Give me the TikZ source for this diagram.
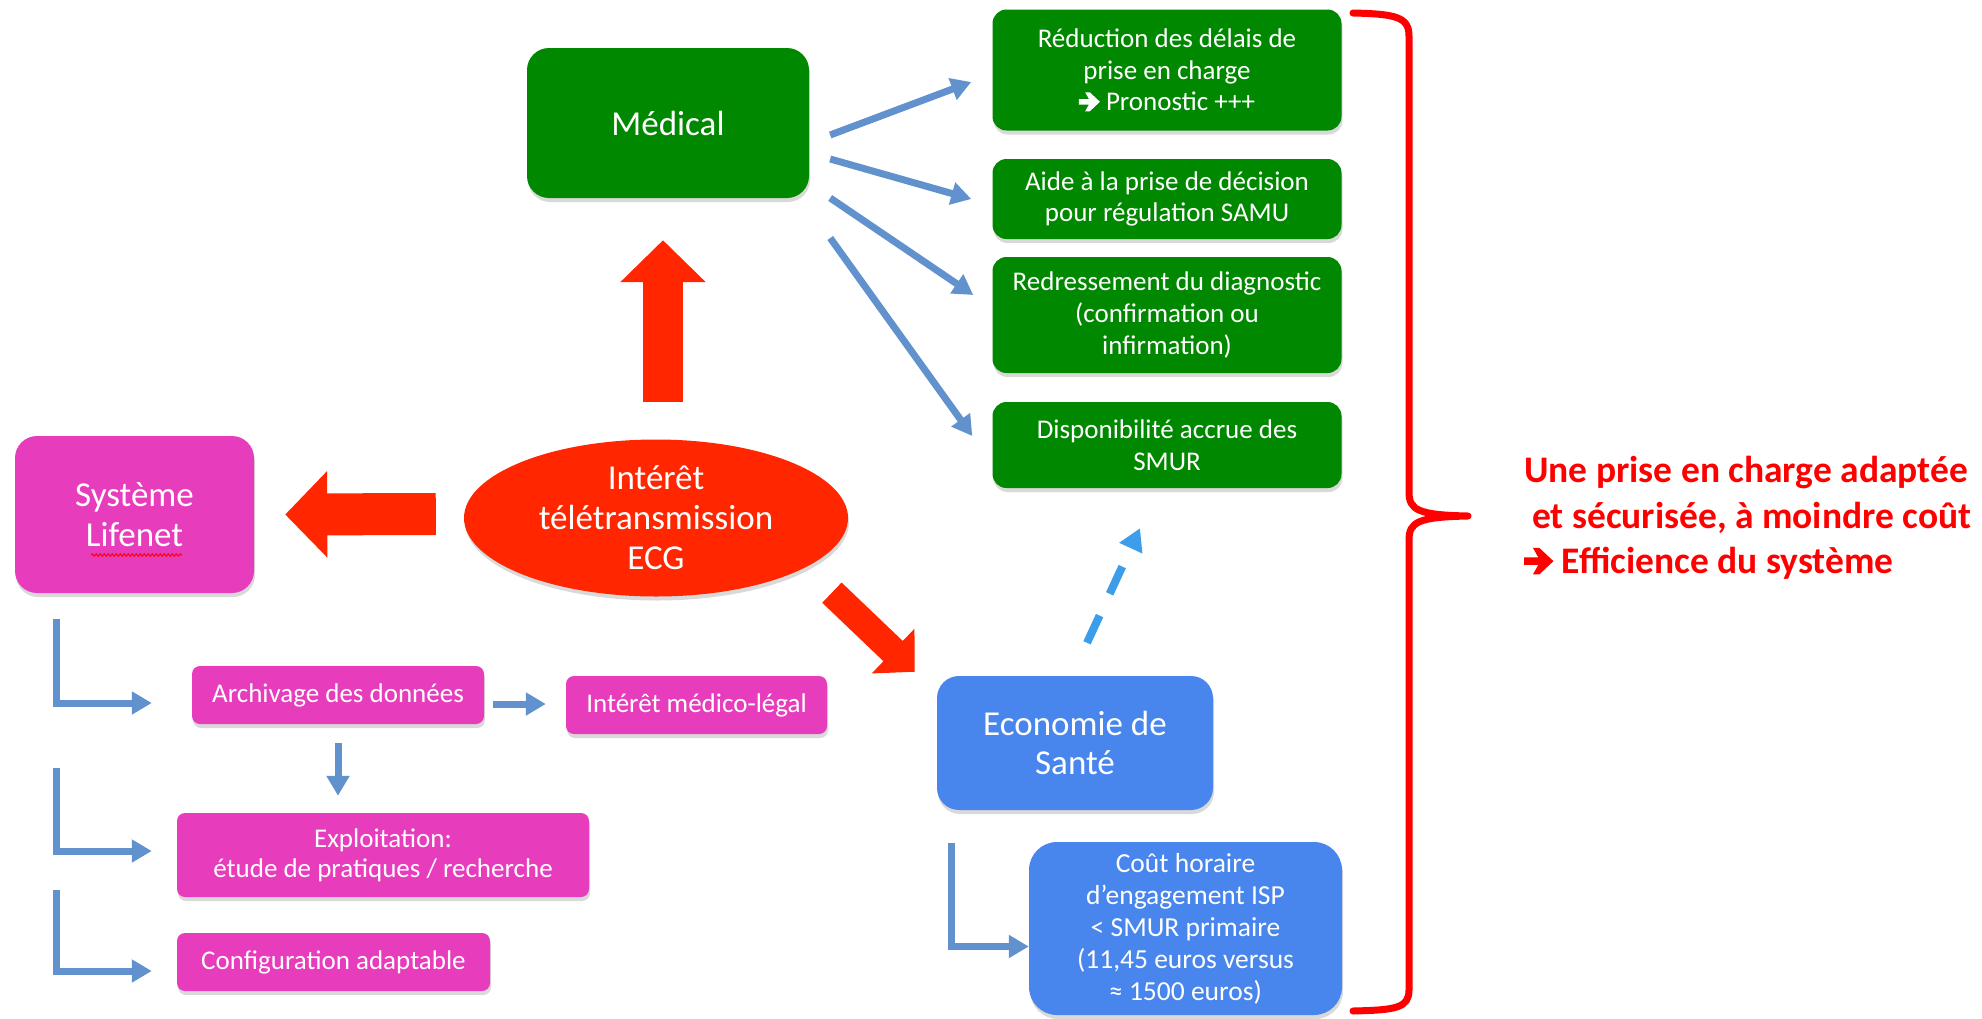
\documentclass[tikz,border=0pt]{standalone}
\usepackage{fontspec}
\setmainfont{Carlito}
\usetikzlibrary{arrows.meta,shapes.geometric,shadows,decorations.pathmorphing}
\definecolor{cgreen}{RGB}{0,137,0}
\definecolor{cpink}{RGB}{231,61,189}
\definecolor{cblue}{RGB}{72,133,237}
\definecolor{cred}{RGB}{255,38,0}
\definecolor{cline}{RGB}{98,146,205}
\definecolor{cdash}{RGB}{60,158,235}
\definecolor{pured}{RGB}{255,0,0}
\newcommand\heavyarrow[1]{\tikz[baseline=-0.33em,x=0.78em,y=0.78em,sharp corners]\fill[#1,sharp corners] (0,0.13) -- (0.48,0.13) -- (0.3,0.45) -- (0.52,0.45) -- (1,0) -- (0.52,-0.45) -- (0.3,-0.45) -- (0.48,-0.13) -- (0,-0.13) -- cycle;}
\begin{document}
\begin{tikzpicture}[x=1pt,y=-1pt,
  shad/.style={drop shadow={shadow xshift=1pt,shadow yshift=-4pt,opacity=0.25,fill=black!60}},
  base/.style={rectangle, text=white, align=center, inner sep=0pt, shad},
  smallfont/.style={font=\fontsize{27}{31.6}\selectfont},
  bigfont/.style={font=\fontsize{35}{40}\selectfont},
  gbox/.style={base, smallfont, fill=cgreen, rounded corners=14pt, minimum width=349pt},
  pbox/.style={base, smallfont, fill=cpink, rounded corners=8pt},
  redarrow/.style={draw=cred, line width=#1},
  bline/.style={draw=cline, line width=7pt, -{Triangle[length=20pt,width=22pt]}},
]
\useasboundingbox (0,0) rectangle (1982,1018);

% nodes
\node[base, bigfont, fill=cgreen, rounded corners=22pt, minimum width=282pt, minimum height=150pt] (med) at (668,123) {Médical};
\node[gbox, minimum height=121pt] (g1) at (1167,70) {Réduction des délais de\\prise en charge\\\heavyarrow{white} Pronostic +++};
\node[gbox, minimum height=80pt] (g2) at (1167,199) {Aide à la prise de décision\\pour régulation SAMU};
\node[gbox, minimum height=116pt] (g3) at (1167,315) {Redressement du diagnostic\\(confirmation ou\\infirmation)};
\node[gbox, minimum height=86pt] (g4) at (1167,445) {Disponibilité accrue des\\SMUR};
\node[base, bigfont, fill=cpink, rounded corners=22pt, minimum width=239pt, minimum height=157pt] (life) at (134.5,514.5) {Système\\Lifenet};
\node[ellipse, fill=cred, text=white, align=center, inner sep=0pt, bigfont, minimum width=384pt, minimum height=157pt, shad] (ell) at (656,518) {Intérêt\\télétransmission\\ECG};
\node[base, font=\fontsize{35}{39}\selectfont, fill=cblue, rounded corners=22pt, minimum width=276pt, minimum height=134pt] (eco) at (1075,743) {Economie de\\Santé};
\node[base, font=\fontsize{27.5}{32}\selectfont, fill=cblue, rounded corners=28pt, minimum width=313pt, minimum height=173pt] (cout) at (1185.5,928.5) {Coût horaire\\d’engagement ISP\\< SMUR primaire\\(11,45 euros versus\\≈ 1500 euros)};
\node[pbox, minimum width=292pt, minimum height=58pt] (arch) at (338,695) {Archivage des données};
\node[pbox, minimum width=261pt, minimum height=58pt] (legal) at (696.5,705) {Intérêt médico-légal};
\node[pbox, font=\fontsize{27}{30}\selectfont, minimum width=412pt, minimum height=84pt] (expl) at (383,855) {Exploitation:\\étude de pratiques / recherche};
\node[pbox, minimum width=313pt, minimum height=58pt] (conf) at (333.5,962) {Configuration adaptable};

% spell-check squiggle under Lifenet
\coordinate (sq1) at (91,555);
\coordinate (sq2) at (182,555);
\draw[pured, line width=1pt, decorate, decoration={snake, amplitude=1.2pt, segment length=4pt}] (sq1) -- (sq2);

% red block arrows
\draw[redarrow=40pt, -{Triangle[length=42pt,width=83pt]}] ([xshift=7pt,yshift=37pt]ell.north) -- ([xshift=-5pt,yshift=-42pt]med.south);
\draw[redarrow=42pt, -{Triangle[length=42pt,width=84pt]}] ([xshift=-28pt,yshift=4pt]ell.west) -- ([xshift=31pt]life.east);
\draw[redarrow=28pt, -{Triangle[length=30pt,width=60pt]}] ([xshift=40pt,yshift=-19pt]ell.south east) -- ([xshift=-22pt,yshift=4pt]eco.north west);

% Médical arrows
\draw[bline] ([xshift=21pt,yshift=-12pt]med.east) -- ([xshift=-21pt,yshift=-12pt]g1.west);
\draw[bline] ([xshift=21pt,yshift=-36pt]med.east) -- ([xshift=-21pt]g2.west);
\draw[bline] ([xshift=21pt,yshift=-75pt]med.east) -- ([xshift=-19pt,yshift=20pt]g3.west);
\draw[bline] ([xshift=21pt,yshift=-115pt]med.east) -- ([xshift=-20pt,yshift=9pt]g4.west);

% dashed arrow
\draw[draw=cdash, line width=8pt, dash pattern=on 30pt off 24pt, -{Triangle[length=22pt,width=24pt]}] ([xshift=12pt,yshift=33pt]eco.north) -- ([xshift=-27pt,yshift=-40pt]g4.south);

% Lifenet L arrows
\coordinate (l1) at (56,619);
\coordinate (l2) at (56,768);
\coordinate (l3) at (56,890);
\draw[bline] (l1) |- ([xshift=-40pt,yshift=-8pt]arch.west);
\draw[bline] (l2) |- ([xshift=-25pt,yshift=4pt]expl.west);
\draw[bline] (l3) |- ([xshift=-25pt,yshift=-9pt]conf.west);
\draw[bline, shorten <=9pt, shorten >=20pt] ([yshift=-9pt]arch.east) -- ([yshift=1pt]legal.west);
\draw[bline, shorten <=19pt, shorten >=17pt] (arch.south) -- (arch.south |- expl.north);

% Economie L arrow
\coordinate (l4) at (951,843);
\draw[bline] (l4) |- ([yshift=-18pt]cout.west);

% brace
\draw[pured, line width=7pt, line cap=round, line join=round]
  (1353,13) .. controls (1396,14) and (1409,17) .. (1409,36)
  -- (1409,492) .. controls (1409,510) and (1418,515) .. (1468,516)
  .. controls (1418,517) and (1409,522) .. (1409,540)
  -- (1409,990) .. controls (1409,1008) and (1396,1010) .. (1353,1011);
\coordinate (btip) at (1468,516);

% right text
\node[anchor=north west, align=left, inner sep=0pt, text=pured, font=\bfseries\fontsize{37.5}{45.5}\selectfont] (concl) at (1524,456)
  {Une prise en charge adaptée\\\hspace*{8pt}et sécurisée, à moindre coût\\\heavyarrow{pured} Efficience du système};
\end{tikzpicture}
\end{document}
